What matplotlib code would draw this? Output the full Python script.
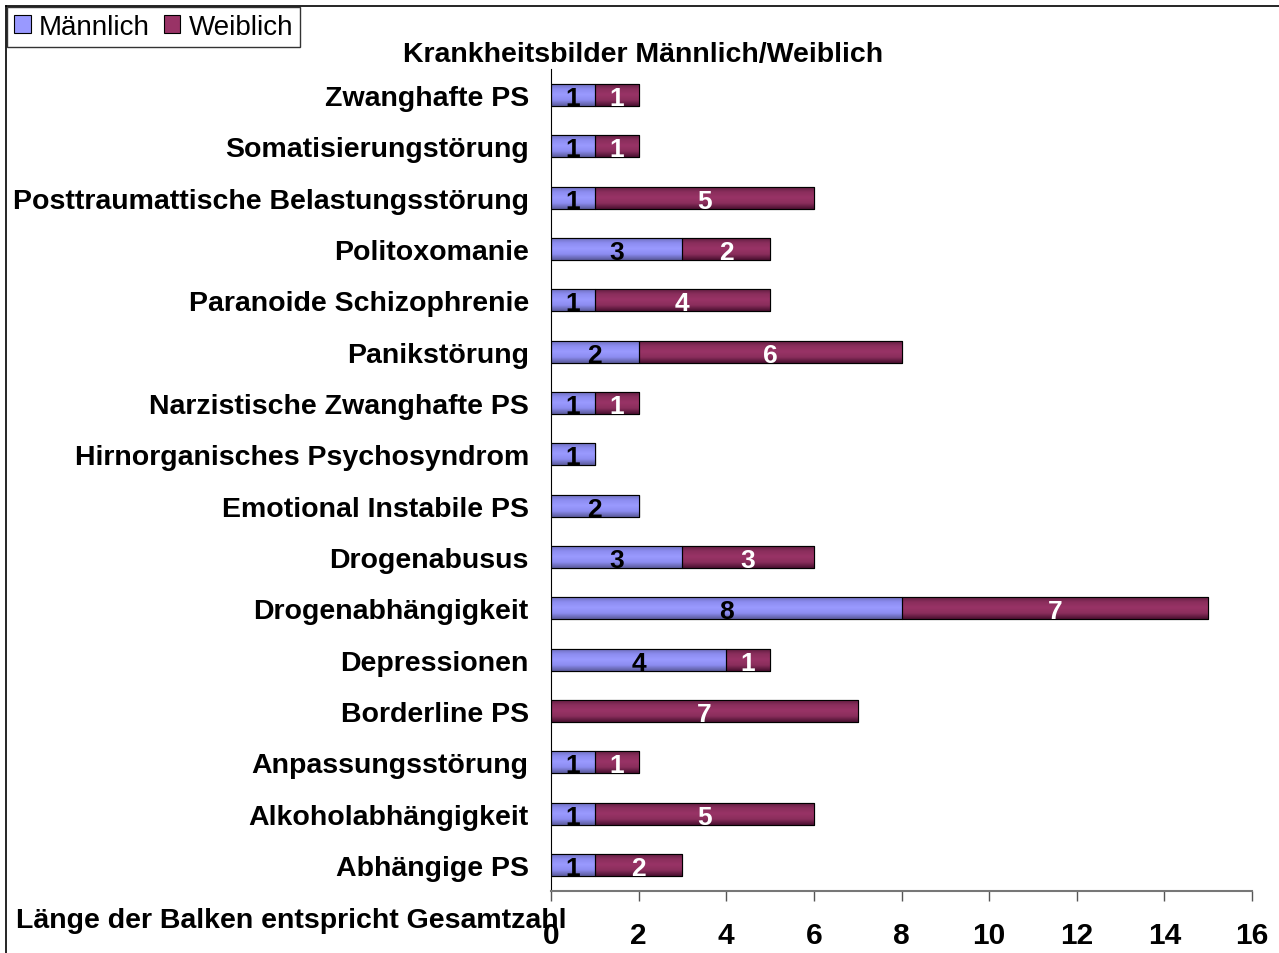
import matplotlib
matplotlib.use("Agg")
import matplotlib.pyplot as plt
import numpy as np
from matplotlib.colors import LinearSegmentedColormap
from matplotlib.patches import Rectangle
from matplotlib.lines import Line2D

plt.rcParams['font.family'] = ['Liberation Sans', 'DejaVu Sans']

categories = [
    "Abhängige PS", "Alkoholabhängigkeit", "Anpassungsstörung", "Borderline PS",
    "Depressionen", "Drogenabhängigkeit", "Drogenabusus", "Emotional Instabile PS",
    "Hirnorganisches Psychosyndrom", "Narzistische Zwanghafte PS", "Panikstörung",
    "Paranoide Schizophrenie", "Politoxomanie", "Posttraumattische Belastungsstörung",
    "Somatisierungstörung", "Zwanghafte PS",
]
maennlich = [1, 1, 1, 0, 4, 8, 3, 2, 1, 1, 2, 1, 3, 1, 1, 1]
weiblich = [2, 5, 1, 7, 1, 7, 3, 0, 0, 1, 6, 4, 2, 5, 1, 1]
xticks = [0, 2, 4, 6, 8, 10, 12, 14, 16]

male_col = "#9999FF"
female_col = "#993366"
male_cmap = LinearSegmentedColormap.from_list("m", ["#5a5a9a", "#8c8cf0", "#9a9aff", "#8c8cf0", "#6a6ab4"])
female_cmap = LinearSegmentedColormap.from_list("f", ["#4a1030", "#8a2e5c", "#993366", "#8a2e5c", "#5a1a3c"])

fig = plt.figure(figsize=(12.79, 9.54), dpi=100)
ax = fig.add_axes([0.4308, 0.0655, 0.5481, 0.8607])

y = np.arange(len(categories)) + 0.5
h = 0.43
bm = ax.barh(y, maennlich, height=h, color=male_col, edgecolor="black", linewidth=0.8, zorder=2)
bf = ax.barh(y, weiblich, left=maennlich, height=h, color=female_col, edgecolor="black", linewidth=0.8, zorder=2)

grad = np.linspace(0, 1, 64).reshape(-1, 1)
for bars, cmap in ((bm, male_cmap), (bf, female_cmap)):
    for p in bars:
        if p.get_width() <= 0:
            continue
        x0, y0 = p.get_x(), p.get_y()
        im = ax.imshow(grad, cmap=cmap, aspect="auto", origin="lower",
                       extent=(x0, x0 + p.get_width(), y0, y0 + p.get_height()),
                       zorder=2.5, interpolation="bilinear")
        clip = Rectangle((x0, y0), p.get_width(), p.get_height(), transform=ax.transData)
        im.set_clip_path(clip)
        ax.add_patch(Rectangle((x0, y0), p.get_width(), p.get_height(), fill=False,
                               edgecolor="black", linewidth=0.8, zorder=3))

for yi, m, f in zip(y, maennlich, weiblich):
    if m > 0:
        ax.text(m / 2, yi - 0.06, str(m), ha="center", va="center", fontsize=19,
                fontweight="bold", color="black", zorder=4)
    if f > 0:
        ax.text(m + f / 2, yi - 0.06, str(f), ha="center", va="center", fontsize=19,
                fontweight="bold", color="white", zorder=4)

ax.set_xlim(0, 16)
ax.set_ylim(0, len(categories))
ax.set_yticks(y)
ax.set_yticklabels(categories, fontsize=20.5, fontweight="bold")
ax.tick_params(axis="y", length=0, pad=16)
ax.set_xticks(xticks)
ax.set_xticklabels([str(t) for t in xticks], fontsize=21.5, fontweight="bold")
ax.tick_params(axis="x", direction="out", length=7, width=1, color="#555555", pad=15)
for s in ("top", "right"):
    ax.spines[s].set_visible(False)
ax.spines["left"].set_color("black")
ax.spines["bottom"].set_color("#777777")
ax.spines["bottom"].set_linewidth(1.5)

fig.text(0.503, 0.942, "Krankheitsbilder Männlich/Weiblich", ha="center", va="center",
         fontsize=20.5, fontweight="bold")
fig.text(0.0125, 0.035, "Länge der Balken entspricht Gesamtzahl", ha="left", va="center",
         fontsize=20.5, fontweight="bold")

# outer frame lines (top and left)
fig.add_artist(Line2D([0.0047, 1.0], [0.9927, 0.9927], transform=fig.transFigure, color="black", lw=1.2))
fig.add_artist(Line2D([0.0047, 0.0047], [0.0, 0.9927], transform=fig.transFigure, color="black", lw=1.2))

handles = [Rectangle((0, 0), 1, 1, facecolor=male_col, edgecolor="black", lw=0.8),
           Rectangle((0, 0), 1, 1, facecolor=female_col, edgecolor="black", lw=0.8)]
leg = fig.legend(handles, ["Männlich", "Weiblich"], loc="upper left",
                 bbox_to_anchor=(0.0055, 0.9915), ncol=2, fontsize=20, frameon=True,
                 fancybox=False, edgecolor="black", handlelength=0.6, handleheight=0.6,
                 handletextpad=0.3, columnspacing=0.5, borderpad=0.25, borderaxespad=0)
leg.get_frame().set_linewidth(1.0)

fig.savefig("out.png", dpi=100)
